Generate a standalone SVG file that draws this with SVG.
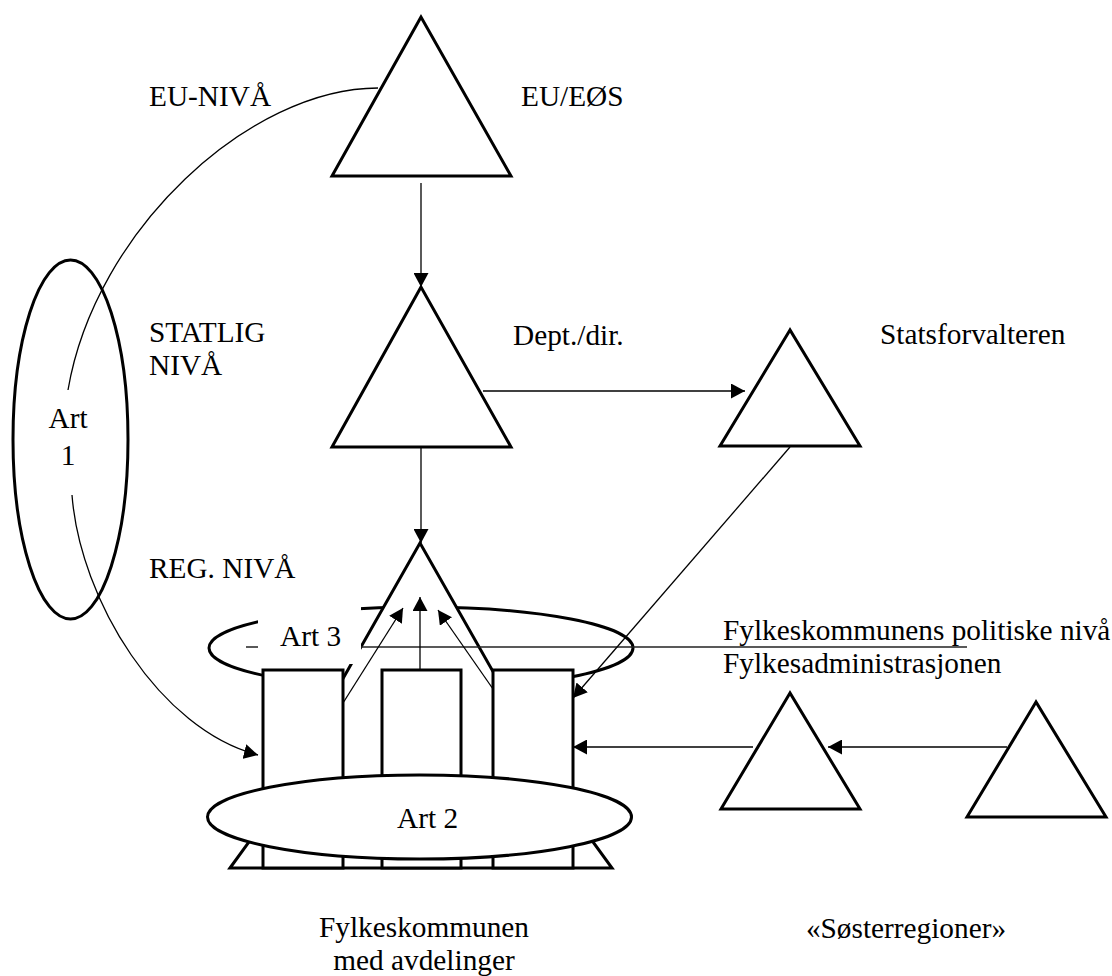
<svg xmlns="http://www.w3.org/2000/svg" width="1112" height="976" viewBox="0 0 1112 976">
  <style>
    text { font-family: 'Liberation Serif', 'DejaVu Serif', serif; font-size: 29.3px; fill: #000; }
    .shape { fill: #fff; stroke: #000; stroke-width: 3; stroke-linejoin: miter; }
    .ring { fill: none; stroke: #000; stroke-width: 3; }
    .conn { fill: none; stroke: #000; stroke-width: 1.3; }
    .arr { marker-end: url(#head); }
  </style>
  <defs>
    <marker id="head" viewBox="0 0 14 15" refX="14" refY="7.5" markerWidth="14" markerHeight="15" markerUnits="userSpaceOnUse" orient="auto">
      <path d="M0,0 L14,7.5 L0,15 z" fill="#000"/>
    </marker>
  </defs>
  <rect width="1112" height="976" fill="#fff"/>

  <g font-family="Liberation Serif, DejaVu Serif, serif">
  <!-- level labels -->
  <g id="level-labels">
    <text x="149" y="106">EU-NIVÅ</text>
    <text x="149" y="342">STATLIG</text>
    <text x="149" y="375">NIVÅ</text>
    <text x="149" y="578">REG. NIVÅ</text>
  </g>

  <!-- Art 1: encircles the three levels on the left -->
  <g id="art1">
    <ellipse class="ring" cx="70.5" cy="439.5" rx="57.5" ry="179.5"/>
    <text x="68" y="428" text-anchor="middle">Art</text>
    <text x="68" y="465" text-anchor="middle">1</text>
  </g>

  <g id="eu">
    <polygon class="shape" points="421,17 332,176 511,176"/>
    <text x="521" y="106">EU/EØS</text>
  </g>

  <g id="dept">
    <polygon class="shape" points="421,287 332,447 511,447"/>
    <text x="513" y="345">Dept./dir.</text>
  </g>

  <g id="statsforvalteren">
    <polygon class="shape" points="790,330 720,446 860,446"/>
    <text x="880" y="344">Statsforvalteren</text>
  </g>

  <!-- county: political level ring, departments, Art 2 base -->
  <g id="fylkeskommunen">
    <ellipse class="ring" cx="421" cy="648" rx="212" ry="41"/>
    <polygon class="shape" points="230,868 262,824 580,824 612,868"/>
    <polygon class="shape" points="420,543 274,800 566,800"/>
    <rect class="shape" x="263" y="670" width="80" height="198"/>
    <rect class="shape" x="382" y="670" width="79" height="198"/>
    <rect class="shape" x="493" y="670" width="80" height="198"/>
    <ellipse class="shape" cx="419.5" cy="817" rx="212" ry="42"/>
    <text x="397" y="828">Art 2</text>
    <line x1="246" y1="647" x2="967" y2="647" stroke="#222" stroke-width="1.5"/>
    <rect x="258" y="605" width="103" height="59" fill="#fff"/>
    <text x="280" y="646">Art 3</text>
    <text x="723" y="640">Fylkeskommunens politiske nivå</text>
    <text x="723" y="673">Fylkesadministrasjonen</text>
    <text x="424" y="937" text-anchor="middle">Fylkeskommunen</text>
    <text x="424" y="970" text-anchor="middle">med avdelinger</text>
  </g>

  <g id="soster1">
    <polygon class="shape" points="790,693 721,809 860,809"/>
  </g>
  <g id="soster2">
    <polygon class="shape" points="1036,702 967,817 1106,817"/>
  </g>
  <text x="906" y="938" text-anchor="middle">«Søsterregioner»</text>
  </g>

  <g id="connectors">
    <line class="conn arr" x1="421" y1="183" x2="421" y2="287"/>
    <line class="conn arr" x1="421" y1="447" x2="421" y2="543"/>
    <line class="conn arr" x1="483" y1="391" x2="745" y2="391"/>
    <line class="conn arr" x1="790" y1="447" x2="573" y2="698"/>
    <line class="conn arr" x1="1007" y1="747" x2="828" y2="747" stroke-width="1.6"/>
    <line class="conn arr" x1="753" y1="747" x2="573" y2="747" stroke-width="1.6"/>
    <line class="conn arr" x1="343" y1="703" x2="403" y2="608"/>
    <line class="conn arr" x1="420" y1="670" x2="420" y2="597"/>
    <line class="conn arr" x1="493" y1="689" x2="438" y2="610"/>
    <path class="conn" d="M378,88 C250,88 95,230 68,390"/>
    <path class="conn arr" d="M72,495 C80,600 160,730 258,755"/>
  </g>
</svg>
